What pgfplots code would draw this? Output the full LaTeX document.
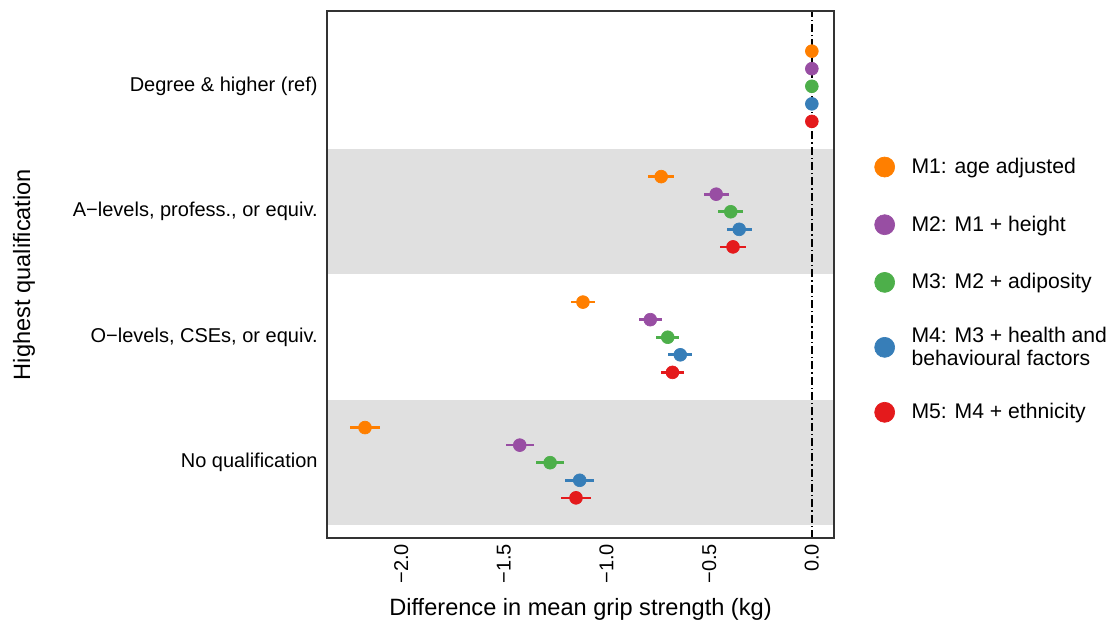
\documentclass[border=0pt]{standalone}
\usepackage{pgfplots}
\pgfplotsset{compat=1.18}
\usepackage{fontspec}
\setmainfont{Liberation Sans}
\definecolor{cOrange}{HTML}{FF7F00}
\definecolor{cPurple}{HTML}{984EA3}
\definecolor{cGreen}{HTML}{4DAF4A}
\definecolor{cBlue}{HTML}{377EB8}
\definecolor{cRed}{HTML}{E41A1C}
\definecolor{bandgray}{HTML}{E0E0E0}
\pgfplotsset{
  model/.style={only marks, mark=*, mark size=3.85pt, color=#1,
    mark options={draw=none, fill=#1},
    legend image code/.code={\fill[#1] (0pt,0pt) circle (6pt);},
    error bars/.cd, x dir=both, x explicit, error mark=none,
    error bar style={line width=1.6pt, #1}},
}
\begin{document}
\begin{tikzpicture}
\useasboundingbox (0,0) rectangle (671.4pt,374.4pt);
\begin{axis}[
  at={(196.2pt,51.6pt)}, anchor=south west,
  scale only axis, width=304.2pt, height=316.2pt,
  xmin=-2.362, xmax=0.108, ymin=0.4, ymax=4.6,
  xtick={-2,-1.5,-1,-0.5,0},
  xticklabels={−2.0,−1.5,−1.0,−0.5,0.0},
  ytick={1,2,3,4},
  yticklabels={No qualification,{O−levels, CSEs, or equiv.},{A−levels, profess., or equiv.},Degree \& higher (ref)},
  major tick length=0pt, tick style={draw=none},
  tick label style={font=\fontsize{12}{14}\selectfont},
  xticklabel style={rotate=90, anchor=east},
  yticklabel style={anchor=east, xshift=-2.1pt},
  axis line style={draw=black!80, line width=0.8pt},
  axis on top,
  xlabel={Difference in mean grip strength (kg)},
  ylabel={Highest qualification},
  label style={font=\fontsize{14.15}{16}\selectfont},
  xlabel style={at={(0.5,-0.1357)}, anchor=center},
  ylabel style={at={(-0.5976,0.5)}, anchor=center},
  legend cell align=left,
  legend style={draw=none, fill=none, inner sep=0pt,
    at={(1.0789,0.4712)}, anchor=west,
    row sep=14.85pt, column sep=7.9pt,
    font=\fontsize{12.7}{13.8}\selectfont,
    nodes={inner sep=2pt, minimum height=19.75pt, align=left}},
]
\fill[bandgray] (axis cs:-3,2.5) rectangle (axis cs:1,3.5);
\fill[bandgray] (axis cs:-3,0.5) rectangle (axis cs:1,1.5);

\addplot[model=cOrange] table[x=x, y=y, x error=e] {
x y e
0 4.28 0
-0.734 3.28 0.062
-1.115 2.28 0.058
-2.177 1.28 0.071
};
\addlegendentry{M1: age adjusted}

\addplot[model=cPurple] table[x=x, y=y, x error=e] {
x y e
0 4.14 0
-0.466 3.14 0.061
-0.787 2.14 0.056
-1.423 1.14 0.069
};
\addlegendentry{M2: M1 + height}

\addplot[model=cGreen] table[x=x, y=y, x error=e] {
x y e
0 4.00 0
-0.395 3.00 0.060
-0.702 2.00 0.056
-1.275 1.00 0.069
};
\addlegendentry{M3: M2 + adiposity}

\addplot[model=cBlue] table[x=x, y=y, x error=e] {
x y e
0 3.86 0
-0.354 2.86 0.061
-0.641 1.86 0.058
-1.131 0.86 0.072
};
\addlegendentry{M4: M3 + health and\\behavioural factors}

\addplot[model=cRed] table[x=x, y=y, x error=e] {
x y e
0 3.72 0
-0.384 2.72 0.061
-0.679 1.72 0.057
-1.149 0.72 0.071
};
\addlegendentry{M5: M4 + ethnicity}

\addplot[forget plot, black, line width=0.8pt, dash pattern=on 4.8pt off 1.8pt on 0.8pt off 1.8pt] coordinates {(0,0.4) (0,4.6)};
\end{axis}
\end{tikzpicture}
\end{document}
